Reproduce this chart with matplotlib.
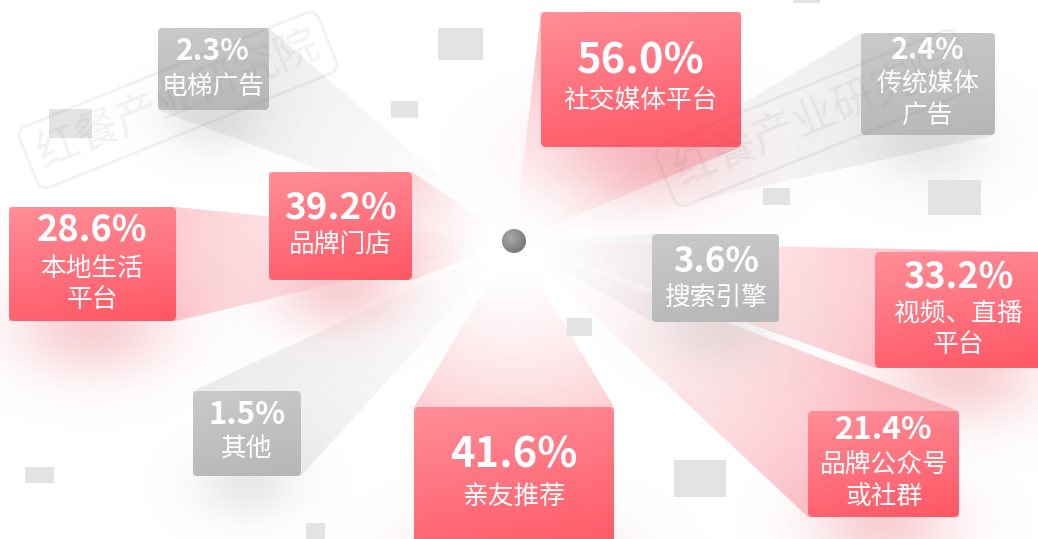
import numpy as np
import matplotlib
matplotlib.use("Agg")
import matplotlib.pyplot as plt
from matplotlib.patches import FancyBboxPatch, Polygon, Circle, Rectangle

plt.rcParams['font.family'] = ['Noto Sans CJK SC', 'DejaVu Sans']

# ---------------- data ----------------
channels = ['电梯广告', '社交媒体平台', '传统媒体\n广告', '品牌门店', '本地生活\n平台',
            '搜索引擎', '视频、直播\n平台', '其他', '亲友推荐', '品牌公众号\n或社群']
shares = [2.3, 56.0, 2.4, 39.2, 28.6, 3.6, 33.2, 1.5, 41.6, 21.4]

# ---------------- layout (pixel space, y down) ----------------
box_x0 = [158, 541, 861, 269, 9, 652, 875, 193, 414, 808]
box_y0 = [28, 12, 33, 172, 207, 234, 252, 391, 407, 411]
box_x1 = [269, 741, 995, 412, 176, 779, 1046, 301, 614, 959]
box_y1 = [110, 147, 135, 280, 321, 322, 368, 476, 560, 517]
text_x = [213, 641, 928, 340, 92, 716, 958, 247, 514, 884]
pct_y = [51, 61, 50, 208, 230, 261, 277, 415, 455, 430]
lab_y = [87, 102, 85, 246, 269, 298, 314, 450, 497, 466]
pct_fs = [21.5, 30, 21.5, 26.5, 26, 25, 26, 22.5, 30, 23]
lab_fs = 18.5
line_gap = 31

W, H = 1038, 539
C = (514, 241)

small_rects = [(438, 28, 45, 32), (391, 101, 27, 17), (49, 109, 43, 29),
               (763, 188, 27, 17), (928, 180, 53, 35), (567, 318, 25, 18),
               (25, 467, 29, 16), (674, 460, 52, 37), (306, 523, 19, 16),
               (793, 0, 27, 3)]

fig = plt.figure(figsize=(W / 100, H / 100), dpi=100)
ax = fig.add_axes([0, 0, 1, 1])
ax.set_xlim(0, W)
ax.set_ylim(H, 0)
ax.axis('off')
fig.patch.set_facecolor('white')

yy, xx = np.mgrid[0:H, 0:W].astype(np.float32) + 0.5
dist = np.hypot(xx - C[0], yy - C[1])


def hull(points):
    pts = sorted(set(points))
    def cross(o, a, b):
        return (a[0] - o[0]) * (b[1] - o[1]) - (a[1] - o[1]) * (b[0] - o[0])
    lower, upper = [], []
    for p in pts:
        while len(lower) >= 2 and cross(lower[-2], lower[-1], p) <= 0:
            lower.pop()
        lower.append(p)
    for p in reversed(pts):
        while len(upper) >= 2 and cross(upper[-2], upper[-1], p) <= 0:
            upper.pop()
        upper.append(p)
    return lower[:-1] + upper[:-1]


def rgba_layer(color, alpha):
    img = np.zeros((H, W, 4), dtype=np.float32)
    img[..., 0] = color[0] / 255
    img[..., 1] = color[1] / 255
    img[..., 2] = color[2] / 255
    img[..., 3] = np.clip(alpha, 0, 1)
    return img


n = len(shares)
# ---- rays ----
for i in range(n):
    red = shares[i] >= 10
    x0, y0, x1, y1 = box_x0[i], box_y0[i], box_x1[i], box_y1[i]
    pts = hull([C, (x0, y0), (x1, y0), (x0, y1), (x1, y1)])
    poly = Polygon(pts, closed=True, facecolor='none', edgecolor='none')
    ax.add_patch(poly)
    cx, cy = (x0 + x1) / 2, (y0 + y1) / 2
    dbox = np.hypot(cx - C[0], cy - C[1])
    t = np.clip((dist - 20) / (dbox * 0.9 - 20), 0, 1)
    if red:
        alpha = 0.52 * t ** 1.5
        col = (250, 140, 152)
    else:
        alpha = 0.36 * t ** 1.5
        col = (205, 205, 205)
    im = ax.imshow(rgba_layer(col, alpha), extent=(0, W, H, 0), origin='upper',
                   zorder=1, interpolation='bilinear', aspect='auto')
    im.set_clip_path(poly)

# ---- soft shadows ----
for i in range(n):
    red = shares[i] >= 10
    x0, y0, x1, y1 = box_x0[i], box_y0[i], box_x1[i], box_y1[i]
    w, h = x1 - x0, y1 - y0
    cx, cy = (x0 + x1) / 2, y1 + 6
    sx, sy = 0.33 * w, 0.30 * min(h, 120)
    g = np.exp(-(((xx - cx) / sx) ** 2 + ((yy - cy) / sy) ** 2) / 2)
    if red:
        layer = rgba_layer((240, 150, 160), 0.45 * g)
    else:
        layer = rgba_layer((185, 185, 185), 0.32 * g)
    ax.imshow(layer, extent=(0, W, H, 0), origin='upper', zorder=2,
              interpolation='bilinear', aspect='auto')

# ---- small decorative rectangles ----
for (rx, ry, rw, rh) in small_rects:
    ax.add_patch(Rectangle((rx, ry), rw, rh, facecolor=(0.89, 0.89, 0.89),
                           edgecolor='none', zorder=3))

# ---- boxes ----
for i in range(n):
    red = shares[i] >= 10
    x0, y0, x1, y1 = box_x0[i], box_y0[i], box_x1[i], box_y1[i]
    w, h = x1 - x0, y1 - y0
    patch = FancyBboxPatch((x0, y0), w, h, boxstyle='round,pad=0,rounding_size=5',
                           facecolor='none', edgecolor='none', zorder=5)
    ax.add_patch(patch)
    gy, gx = np.mgrid[0:64, 0:64].astype(np.float32) / 63
    tt = np.clip(0.8 * gy + 0.2 * gx, 0, 1)[..., None]
    if red:
        top = np.array([255, 142, 152]) / 255
        bot = np.array([255, 86, 100]) / 255
    else:
        top = np.array([202, 202, 202]) / 255
        bot = np.array([182, 182, 182]) / 255
    img = top * (1 - tt) + bot * tt
    bim = ax.imshow(img, extent=(x0, x1, y1, y0), origin='upper', zorder=5,
                    interpolation='bilinear', aspect='auto')
    bim.set_clip_path(patch)

    ax.text(text_x[i], pct_y[i], f'{shares[i]:.1f}%', ha='center', va='center',
            color='white', fontsize=pct_fs[i], fontweight='bold', zorder=7)
    for k, line in enumerate(channels[i].split('\n')):
        ax.text(text_x[i], lab_y[i] + k * line_gap, line, ha='center', va='center',
                color='white', fontsize=lab_fs, zorder=7)

# ---- centre dot ----
dot = Circle(C, 12, facecolor='none', edgecolor='none', zorder=8)
ax.add_patch(dot)
dy, dx = np.mgrid[0:48, 0:48].astype(np.float32) / 47
rr = np.clip(np.hypot(dx - 0.35, dy - 0.35) / 0.9, 0, 1)[..., None]
dimg = np.array([170, 170, 170]) / 255 * (1 - rr) + np.array([105, 105, 105]) / 255 * rr
dim = ax.imshow(dimg, extent=(C[0] - 12, C[0] + 12, C[1] + 12, C[1] - 12), origin='upper',
                zorder=8, interpolation='bilinear', aspect='auto')
dim.set_clip_path(dot)

# ---- watermark ----
for (wx, wy) in [(178, 100), (815, 118)]:
    ax.text(wx, wy, '红餐产业研究院', rotation=22, ha='center', va='center',
            fontsize=31, color=(0.45, 0.45, 0.45), alpha=0.09, zorder=9,
            bbox=dict(boxstyle='round,pad=0.25', facecolor='none',
                      edgecolor=(0.45, 0.45, 0.45, 0.09), linewidth=2))

ax.set_xlim(0, W)
ax.set_ylim(H, 0)
fig.savefig('out.png', dpi=100, facecolor='white')
